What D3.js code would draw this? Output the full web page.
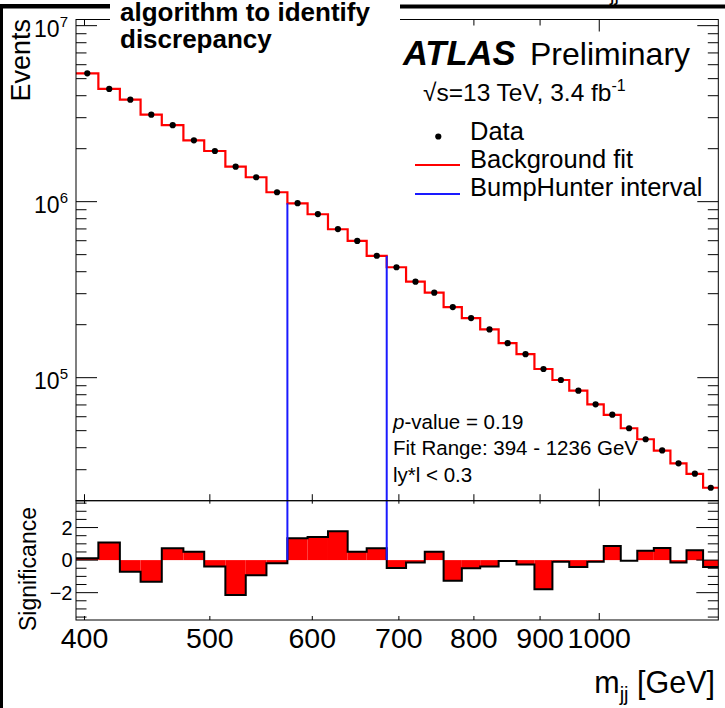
<!DOCTYPE html>
<html>
<head>
<meta charset="utf-8">
<script src="https://cdn.jsdelivr.net/npm/d3@7"></script>
<style>
  body { margin: 0; background: #fff; }
  svg { display: block; font-family: "Liberation Sans", Arial, Helvetica, sans-serif; }
</style>
</head>
<body>
<svg id="chart" width="725" height="708"></svg>
<script>
// Dijet invariant mass bin edges [GeV]
const binEdges = [394, 410, 426, 442, 459, 477, 495, 514, 533, 553, 574, 595, 617, 639, 661,
  685, 709, 733, 758, 783, 809, 836, 863, 891, 920, 948, 979, 1008, 1039, 1070, 1102,
  1135, 1168, 1203, 1236];

// Background fit, events per bin
const fitValues = [5.36e6, 4.37e6, 3.80e6, 3.12e6, 2.72e6, 2.23e6, 1.94e6, 1.58e6, 1.376e6,
  1.131e6, 9.79e5, 8.48e5, 6.97e5, 5.98e5, 4.92e5, 4.24e5, 3.51e5, 3.04e5, 2.52e5, 2.18e5,
  1.88e5, 1.57e5, 1.36e5, 1.12e5, 9.70e4, 8.44e4, 7.06e4, 6.14e4, 5.16e4, 4.47e4, 3.85e4,
  3.26e4, 2.84e4, 2.37e4];

// Observed data, events per bin
const dataValues = [5.36e6, 4.37e6, 3.80e6, 3.12e6, 2.72e6, 2.23e6, 1.94e6, 1.58e6, 1.376e6,
  1.131e6, 9.81e5, 8.50e5, 6.99e5, 5.98e5, 4.93e5, 4.24e5, 3.51e5, 3.04e5, 2.52e5, 2.18e5,
  1.88e5, 1.57e5, 1.36e5, 1.12e5, 9.70e4, 8.44e4, 7.06e4, 6.16e4, 5.16e4, 4.47e4, 3.86e4,
  3.26e4, 2.85e4, 2.37e4];

// Bin-by-bin significance of data relative to the fit
const significance = [0.12, 1.08, -0.72, -1.33, 0.73, 0.52, -0.40, -2.15, -0.93, -0.20,
  1.35, 1.42, 1.78, 0.51, 0.73, -0.49, -0.14, 0.52, -1.27, -0.50, -0.39, -0.05, -0.27,
  -1.79, -0.10, -0.43, -0.10, 0.86, -0.04, 0.57, 0.74, -0.15, 0.60, -0.43];

// Most discrepant interval found by BumpHunter [GeV]
const bumpInterval = [574, 685];

const xTickValues = [400, 500, 600, 700, 800, 900, 1000];
const xTickLabels = ["400", "500", "600", "700", "800", "900", "1000"];
const xMajorTicks = [1000];
const yMajorExponents = [5, 6, 7];
const sigTickValues = [-2, 0, 2];
const sigTickLabels = ["\u22122", "0", "2"];

const svg = d3.select("#chart");

// Panel geometry
const L = 76, R = 718.3;
const mainTop = 19.5, mainBot = 500.7, lowBot = 620;

const x = d3.scaleLog().domain([394, 1236]).range([L, R]);
const y = d3.scaleLog().domain([2e4, 1.084e7]).range([mainBot, mainTop]);
const ys = d3.scaleLinear().domain([-3.68, 3.65]).range([lowBot, mainBot]);

const bins = fitValues.map((f, i) => ({
  lo: binEdges[i], hi: binEdges[i + 1], fit: f, data: dataValues[i], sig: significance[i]
}));

// ---------- main panel ----------
const stepPts = bins.map(b => [b.lo, b.fit]).concat([[binEdges[binEdges.length - 1], fitValues[fitValues.length - 1]]]);
const fitLine = d3.line().x(d => x(d[0])).y(d => y(d[1])).curve(d3.curveStepAfter);
svg.append("path").attr("d", fitLine(stepPts))
  .attr("fill", "none").attr("stroke", "#ff0000").attr("stroke-width", 2.2);

// BumpHunter interval boundaries
const iLo = binEdges.indexOf(bumpInterval[0]);
const iHi = binEdges.indexOf(bumpInterval[1]);
const bumpLines = [
  { m: bumpInterval[0], top: fitValues[iLo] },
  { m: bumpInterval[1], top: fitValues[iHi - 1] }
];
bumpLines.forEach(b => {
  svg.append("line").attr("x1", x(b.m)).attr("x2", x(b.m))
    .attr("y1", y(b.top)).attr("y2", mainBot)
    .attr("stroke", "#1a1aff").attr("stroke-width", 2);
});

// Data points
svg.append("g").selectAll("circle").data(bins).join("circle")
  .attr("cx", d => x((d.lo + d.hi) / 2)).attr("cy", d => y(d.data))
  .attr("r", 3.1).attr("fill", "#000");

// ---------- lower panel ----------
svg.append("g").selectAll("rect").data(bins).join("rect")
  .attr("x", d => x(d.lo)).attr("width", d => x(d.hi) - x(d.lo))
  .attr("y", d => Math.min(ys(0), ys(d.sig)))
  .attr("height", d => Math.abs(ys(d.sig) - ys(0)))
  .attr("fill", "#ff0000");

const sigPts = bins.map(b => [b.lo, b.sig]).concat([[binEdges[binEdges.length - 1], significance[significance.length - 1]]]);
const sigLine = d3.line().x(d => x(d[0])).y(d => ys(d[1])).curve(d3.curveStepAfter);
svg.append("path").attr("d", sigLine(sigPts))
  .attr("fill", "none").attr("stroke", "#000").attr("stroke-width", 2);

bumpLines.forEach(b => {
  svg.append("line").attr("x1", x(b.m)).attr("x2", x(b.m))
    .attr("y1", mainBot).attr("y2", ys(0))
    .attr("stroke", "#1a1aff").attr("stroke-width", 2);
});

// ---------- frames & ticks ----------
const axisG = svg.append("g").attr("stroke", "#000").attr("stroke-width", 1).attr("fill", "none");
axisG.append("rect").attr("x", L).attr("y", mainTop).attr("width", R - L).attr("height", mainBot - mainTop);
axisG.append("rect").attr("x", L).attr("y", mainBot).attr("width", R - L).attr("height", lowBot - mainBot);

function tick(x1, y1, x2, y2) {
  axisG.append("line").attr("x1", x1).attr("y1", y1).attr("x2", x2).attr("y2", y2);
}

// x ticks on both panels
xTickValues.forEach(v => {
  const major = xMajorTicks.includes(v);
  const px = x(v);
  tick(px, mainTop, px, mainTop + (major ? 12 : 6));
  tick(px, mainBot, px, mainBot - (major ? 12 : 6.5));
  tick(px, mainBot, px, mainBot + (major ? 5.5 : 3));
  tick(px, lowBot, px, lowBot - (major ? 7 : 4));
});

// log y ticks, main panel
y.ticks().forEach(v => {
  const e = Math.log10(v);
  const major = Math.abs(e - Math.round(e)) < 1e-9;
  const len = major ? 21 : 10.5;
  tick(L, y(v), L + len, y(v));
  tick(R, y(v), R - len, y(v));
});

// significance ticks
d3.range(-3.5, 3.51, 0.5).forEach(v => {
  const major = sigTickValues.includes(v);
  const len = major ? 22 : 10.5;
  tick(L, ys(v), L + len, ys(v));
  tick(R, ys(v), R - len, ys(v));
});

// ---------- labels ----------
const yLab = svg.append("g").attr("fill", "#000");
yMajorExponents.forEach(e => {
  const t = yLab.append("text").attr("x", 68).attr("y", y(Math.pow(10, e)) + 11.5)
    .attr("text-anchor", "end").attr("font-size", 23);
  t.append("tspan").text("10");
  t.append("tspan").attr("font-size", 15).attr("dy", -10).text(e);
});

sigTickValues.forEach((v, i) => {
  svg.append("text").attr("x", 72.5).attr("y", ys(v) + 7)
    .attr("text-anchor", "end").attr("font-size", 20).text(sigTickLabels[i]);
});

xTickValues.forEach((v, i) => {
  svg.append("text").attr("x", x(v)).attr("y", 648)
    .attr("text-anchor", "middle").attr("font-size", 28.5).text(xTickLabels[i]);
});

// axis titles
const xt = svg.append("text").attr("x", 715).attr("y", 693)
  .attr("text-anchor", "end").attr("font-size", 30.5);
xt.append("tspan").text("m");
xt.append("tspan").attr("font-size", 20).attr("dy", 8).text("jj");
xt.append("tspan").attr("dy", -8).text(" [GeV]");

svg.append("text").attr("transform", "translate(30,19) rotate(-90)")
  .attr("text-anchor", "end").attr("font-size", 27).text("Events");
svg.append("text").attr("transform", "translate(36,507) rotate(-90)")
  .attr("text-anchor", "end").attr("font-size", 23).text("Significance");

// ---------- legend & annotations ----------
svg.append("text").attr("x", 403).attr("y", 65).attr("font-size", 34.5)
  .attr("font-weight", "bold").attr("font-style", "italic").text("ATLAS");
svg.append("text").attr("x", 530).attr("y", 65).attr("font-size", 32).text("Preliminary");

const en = svg.append("text").attr("x", 423).attr("y", 101).attr("font-size", 24.5);
en.append("tspan").text("\u221As=13 TeV, 3.4 fb");
en.append("tspan").attr("font-size", 16).attr("dy", -10).text("-1");

svg.append("circle").attr("cx", 438.3).attr("cy", 136.5).attr("r", 3.1).attr("fill", "#000");
svg.append("text").attr("x", 470).attr("y", 140).attr("font-size", 25.5).text("Data");
svg.append("line").attr("x1", 415).attr("x2", 460).attr("y1", 165).attr("y2", 165)
  .attr("stroke", "#ff0000").attr("stroke-width", 2);
svg.append("text").attr("x", 470).attr("y", 168).attr("font-size", 25.5).text("Background fit");
svg.append("line").attr("x1", 415).attr("x2", 460).attr("y1", 194).attr("y2", 194)
  .attr("stroke", "#1a1aff").attr("stroke-width", 2);
svg.append("text").attr("x", 470).attr("y", 196).attr("font-size", 25.5).text("BumpHunter interval");

const pv = svg.append("text").attr("x", 393).attr("y", 428.5).attr("font-size", 20.5);
pv.append("tspan").attr("font-style", "italic").text("p");
pv.append("tspan").text("-value = 0.19");
svg.append("text").attr("x", 393).attr("y", 455).attr("font-size", 20.5).text("Fit Range: 394 - 1236 GeV");
svg.append("text").attr("x", 393).attr("y", 481.5).attr("font-size", 20.5).text("ly*l < 0.3");

// ---------- surrounding page ----------
svg.append("text").attr("x", 610).attr("y", 0.5).attr("font-size", 20).text("jj");
svg.append("rect").attr("x", 110).attr("y", 0).attr("width", 290).attr("height", 56).attr("fill", "#fff");
svg.append("rect").attr("x", 0).attr("y", 4).attr("width", 110).attr("height", 4.5).attr("fill", "#000");
svg.append("rect").attr("x", 400).attr("y", 4.5).attr("width", 325).attr("height", 4).attr("fill", "#000");
svg.append("rect").attr("x", 0).attr("y", 4).attr("width", 3).attr("height", 704).attr("fill", "#000");
svg.append("text").attr("x", 120).attr("y", 21).attr("font-size", 26).attr("font-weight", "bold")
  .text("algorithm to identify");
svg.append("text").attr("x", 120).attr("y", 47.5).attr("font-size", 26).attr("font-weight", "bold")
  .text("discrepancy");
</script>
</body>
</html>
